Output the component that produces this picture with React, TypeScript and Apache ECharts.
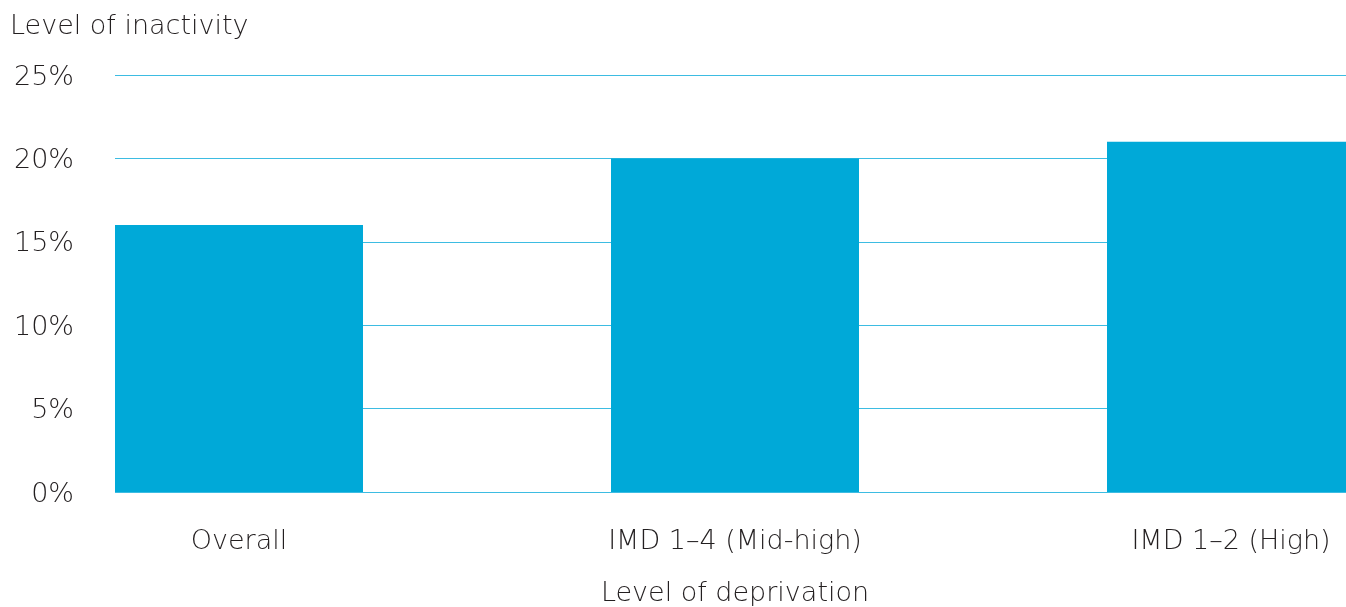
import React, { useEffect, useRef } from "react";
import * as echarts from "echarts";

const categories = ["Overall", "IMD 1\u20134 (Mid-high)", "IMD 1\u20132 (High)"];
const inactivity = [16, 20, 21];
const yTicks = { min: 0, max: 25, interval: 5 };
const yTitle = "Level of inactivity";
const xTitle = "Level of deprivation";

const FONT = "DejaVu Sans";
const TEXT = "#231F20";
const BAR = "#00A9D8";
const GRID_LINE = "#3DBCE2";
const FS = 27;
const FW = 200;

export default function App() {
  const ref = useRef<HTMLDivElement>(null);
  useEffect(() => {
    if (!ref.current) return;
    const chart = echarts.init(ref.current, undefined, { renderer: "svg" });
    chart.setOption({
      animation: false,
      textStyle: { fontFamily: FONT, color: TEXT },
      title: {
        text: yTitle,
        left: 5,
        top: 6,
        textStyle: { fontFamily: FONT, fontSize: FS, fontWeight: FW, color: TEXT },
      },
      grid: [
        { left: 115, right: 0, top: 75, height: 417, outerBoundsMode: "none" },
        { left: -9, width: 1488, top: 75, height: 417, outerBoundsMode: "none" },
      ],
      xAxis: [
        { gridIndex: 0, type: "value", min: 0, max: 1, show: false },
        {
          gridIndex: 1,
          type: "category",
          data: categories,
          axisLine: { show: false },
          axisTick: { show: false },
          axisLabel: { fontSize: FS, fontWeight: FW, color: TEXT, fontFamily: FONT, margin: 34 },
          name: xTitle,
          nameLocation: "middle",
          nameGap: 86,
          nameTextStyle: { fontSize: FS, fontWeight: FW, color: TEXT, fontFamily: FONT },
        },
      ],
      yAxis: [
        {
          gridIndex: 0,
          type: "value",
          min: yTicks.min,
          max: yTicks.max,
          interval: yTicks.interval,
          axisLine: { show: false },
          axisTick: { show: false },
          axisLabel: { formatter: "{value}%", fontSize: FS, fontWeight: FW, color: TEXT, fontFamily: FONT, margin: 41 },
          splitLine: { lineStyle: { color: GRID_LINE, width: 1 } },
        },
        { gridIndex: 1, type: "value", min: yTicks.min, max: yTicks.max, show: false },
      ],
      series: [
        {
          type: "bar",
          xAxisIndex: 1,
          yAxisIndex: 1,
          data: inactivity,
          barWidth: 248,
          itemStyle: { color: BAR },
        },
      ],
    });
    return () => chart.dispose();
  }, []);
  return (
    <div
      ref={ref}
      style={{ position: "fixed", left: 0, top: 0, width: 1346, height: 607 }}
    />
  );
}
